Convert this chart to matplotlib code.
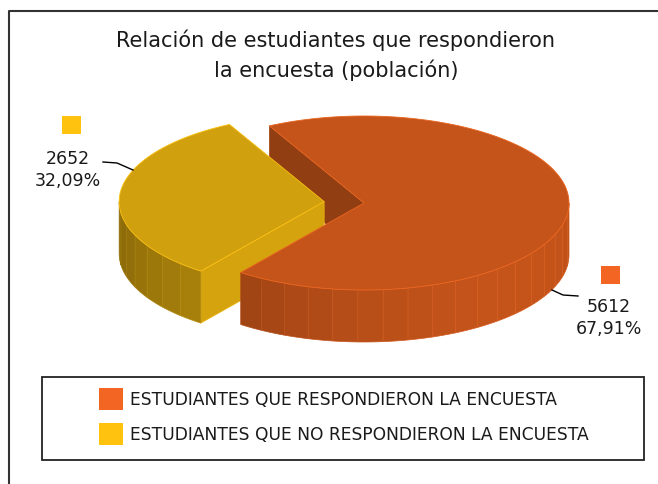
import numpy as np
import matplotlib.pyplot as plt
from matplotlib.patches import Polygon, Rectangle
import matplotlib.colors as mcolors

labels = ["ESTUDIANTES QUE RESPONDIERON LA ENCUESTA",
          "ESTUDIANTES QUE NO RESPONDIERON LA ENCUESTA"]
values = [5612, 2652]
pct_text = ["67,91%", "32,09%"]
top_colors = ["#C5541A", "#D1A00E"]
key_colors = ["#F26522", "#FFC20E"]
title = "Relación de estudiantes que respondieron\nla encuesta (población)"

# pie geometry (pixels, y down)
cx, cy = 364, 204
rx, ry = 205, 87
depth = 52
start = 117.5
explode = [0.0, 0.195]


def shade(c, f):
    r, g, b = mcolors.to_rgb(c)
    return (min(r * f, 1), min(g * f, 1), min(b * f, 1))


def rim(x0, y0, t, dz=0):
    t = np.radians(t)
    return x0 + rx * np.cos(t), y0 - ry * np.sin(t) + dz


def light(angle):
    # simple lighting from the front-right
    return 0.82 + 0.2 * np.cos(np.radians(angle + 40))


fig = plt.figure(figsize=(6.58, 4.85), dpi=100)
ax = fig.add_axes([0, 0, 1, 1])
ax.set_xlim(0, 658)
ax.set_ylim(485, 0)
ax.axis("off")

# outer frame (only left and top edges visible)
ax.plot([9, 9, 660], [490, 12, 12], color="#333333", lw=1.5)

# slice angles, clockwise from start
total = sum(values)
slices = []
a = start
for v, e in zip(values, explode):
    span = 360 * v / total
    t0, t1 = a - span, a
    mid = np.radians((t0 + t1) / 2)
    ox = cx + e * rx * np.cos(mid)
    oy = cy - e * ry * np.sin(mid)
    slices.append((t0, t1, ox, oy))
    a -= span

# pass 1: radial cut faces facing the viewer
for i, (t0, t1, ox, oy) in enumerate(slices):
    for t, side in ((t0, -1), (t1, 1)):
        normal = t + side * 90
        if np.sin(np.radians(normal)) < 0:
            xr, yr = rim(ox, oy, t)
            f = light(normal)
            ax.add_patch(Polygon([(ox, oy), (xr, yr), (xr, yr + depth), (ox, oy + depth)],
                                 closed=True, facecolor=shade(top_colors[i], f),
                                 edgecolor=shade(top_colors[i], f * 1.12), lw=0.5))

# pass 2: outer walls and tops, exploded slices first
order = sorted(range(len(values)), key=lambda k: -explode[k])
for i in order:
    t0, t1, ox, oy = slices[i]
    for k in (-1, 0, 1):
        lo, hi = max(t0, -180 + 360 * k), min(t1, 360 * k)
        if hi <= lo:
            continue
        n = max(int((hi - lo) / 7), 1)
        edges = np.linspace(lo, hi, n + 1)
        for s0, s1 in zip(edges[:-1], edges[1:]):
            ts = np.linspace(s0, s1, 8)
            xs, ys = rim(ox, oy, ts)
            pts = list(zip(xs, ys)) + list(zip(xs[::-1], ys[::-1] + depth))
            f = 0.8 + 0.2 * np.cos(np.radians((s0 + s1) / 2 + 40))
            ax.add_patch(Polygon(pts, closed=True, facecolor=shade(top_colors[i], f),
                                 edgecolor=shade(top_colors[i], f * 1.1), lw=0.5))
    ts = np.linspace(t0, t1, 200)
    xs, ys = rim(ox, oy, ts)
    pts = [(ox, oy)] + list(zip(xs, ys))
    ax.add_patch(Polygon(pts, closed=True, facecolor=top_colors[i],
                         edgecolor=shade(top_colors[i], 1.2), lw=0.6))

# title
ax.text(336, 55, title, ha="center", va="center", fontsize=15,
        color="#1a1a1a", linespacing=1.5)

# data labels with leader lines and colour keys
ax.text(609, 318, f"{values[0]}\n{pct_text[0]}", ha="center", va="center",
        fontsize=12.5, color="#1a1a1a", linespacing=1.3)
ax.plot([552, 563, 578], [291, 296, 297], color="black", lw=1)
ax.add_patch(Rectangle((601, 267), 19, 18, facecolor=key_colors[0]))

ax.text(68, 170, f"{values[1]}\n{pct_text[1]}", ha="center", va="center",
        fontsize=12.5, color="#1a1a1a", linespacing=1.3)
ax.plot([103, 117, 133], [163, 164, 171], color="black", lw=1)
ax.add_patch(Rectangle((62, 117), 19, 18, facecolor=key_colors[1]))

# legend box
ax.add_patch(Rectangle((42, 378), 602, 83, facecolor="white",
                       edgecolor="#222222", lw=1.3))
for j, lab in enumerate(labels):
    y = 400 + 35 * j
    ax.add_patch(Rectangle((99, y - 11), 24, 22, facecolor=key_colors[j]))
    ax.text(130, y, lab, ha="left", va="center", fontsize=12.3, color="#1a1a1a")

fig.savefig("out.png", dpi=100)
